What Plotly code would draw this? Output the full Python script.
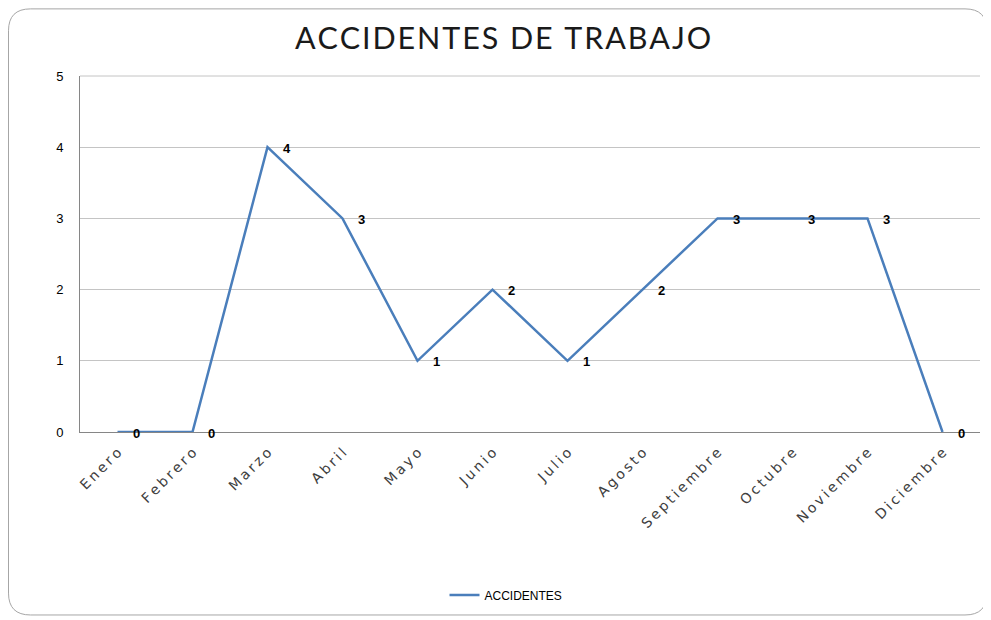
import plotly.graph_objects as go

months = ["Enero", "Febrero", "Marzo", "Abril", "Mayo", "Junio", "Julio",
          "Agosto", "Septiembre", "Octubre", "Noviembre", "Diciembre"]
accidentes = [0, 0, 4, 3, 1, 2, 1, 2, 3, 3, 3, 0]
series_name = "ACCIDENTES"
title_text = "ACCIDENTES DE TRABAJO"

# page has an 8px body margin, so figure coords = page coords - 8
W, H = 983, 612
L, R, T, B = 72, 11, 68, 186
pw, ph = W - L - R, H - T - B

def px(x):
    return (x - L) / pw

def py(y):
    return (H - B - y) / ph

fig = go.Figure()
fig.add_trace(go.Scatter(
    x=list(range(len(months))), y=accidentes, mode="lines", name=series_name,
    line=dict(color="#4A7EBB", width=2.5),
))

for i, v in enumerate(accidentes):
    fig.add_annotation(x=i, y=v, xref="x", yref="y", text="<b>%d</b>" % v,
                       showarrow=False, xshift=19, yshift=-1,
                       font=dict(family="Liberation Sans, Arial", size=13, color="#000000"))

# rounded chart border
x0, y0, x1, y1, r = 0.5, 0.5, 979, 610, 22
path = (f"M {px(x0)},{py(y0 + r)} Q {px(x0)},{py(y0)} {px(x0 + r)},{py(y0)} "
        f"L {px(x1 - r)},{py(y0)} Q {px(x1)},{py(y0)} {px(x1)},{py(y0 + r)} "
        f"L {px(x1)},{py(y1 - r)} Q {px(x1)},{py(y1)} {px(x1 - r)},{py(y1)} "
        f"L {px(x0 + r)},{py(y1)} Q {px(x0)},{py(y1)} {px(x0)},{py(y1 - r)} Z")
fig.add_shape(type="path", path=path, xref="paper", yref="paper",
              line=dict(color="#A6A6A6", width=1), layer="below")
# top gridline (at the axis maximum)
fig.add_shape(type="line", xref="paper", yref="paper", x0=0, x1=1, y0=1, y1=1,
              line=dict(color="#C4C4C4", width=1), layer="below")

spaced_title = "\u200a".join(title_text)
spaced_months = ["\u2009".join(m) for m in months]

fig.update_layout(
    width=W, height=H,
    margin=dict(l=L, r=R, t=T, b=B),
    paper_bgcolor="white", plot_bgcolor="white",
    title=dict(text=spaced_title, x=px(495), xref="paper", xanchor="center",
               y=1 - 30 / H, yanchor="middle",
               font=dict(family="Lato, Liberation Sans", size=30.5, color="#1a1a1a")),
    showlegend=True,
    legend=dict(orientation="h", x=px(498), xanchor="center", xref="paper",
                y=py(590), yanchor="middle", yref="paper",
                font=dict(family="Liberation Sans, Arial", size=12, color="#000000"),
                bgcolor="rgba(0,0,0,0)"),
    xaxis=dict(
        range=[-0.5, 11.5], tickmode="array", tickvals=list(range(len(months))),
        ticktext=spaced_months, tickangle=-45,
        showgrid=False, showline=True, linecolor="#868686", linewidth=1,
        ticks="", zeroline=False, ticklabelstandoff=6,
        tickfont=dict(family="'DejaVu Sans', Verdana", size=14, color="#404040"),
    ),
    yaxis=dict(
        range=[0, 5], dtick=1, showgrid=True, gridcolor="#C4C4C4", gridwidth=1,
        showline=True, linecolor="#868686", linewidth=1, ticks="", zeroline=False,
        tickfont=dict(family="Liberation Sans, Arial", size=13, color="#000000"),
        ticklabelstandoff=13,
    ),
)

fig.write_html("out.html")
